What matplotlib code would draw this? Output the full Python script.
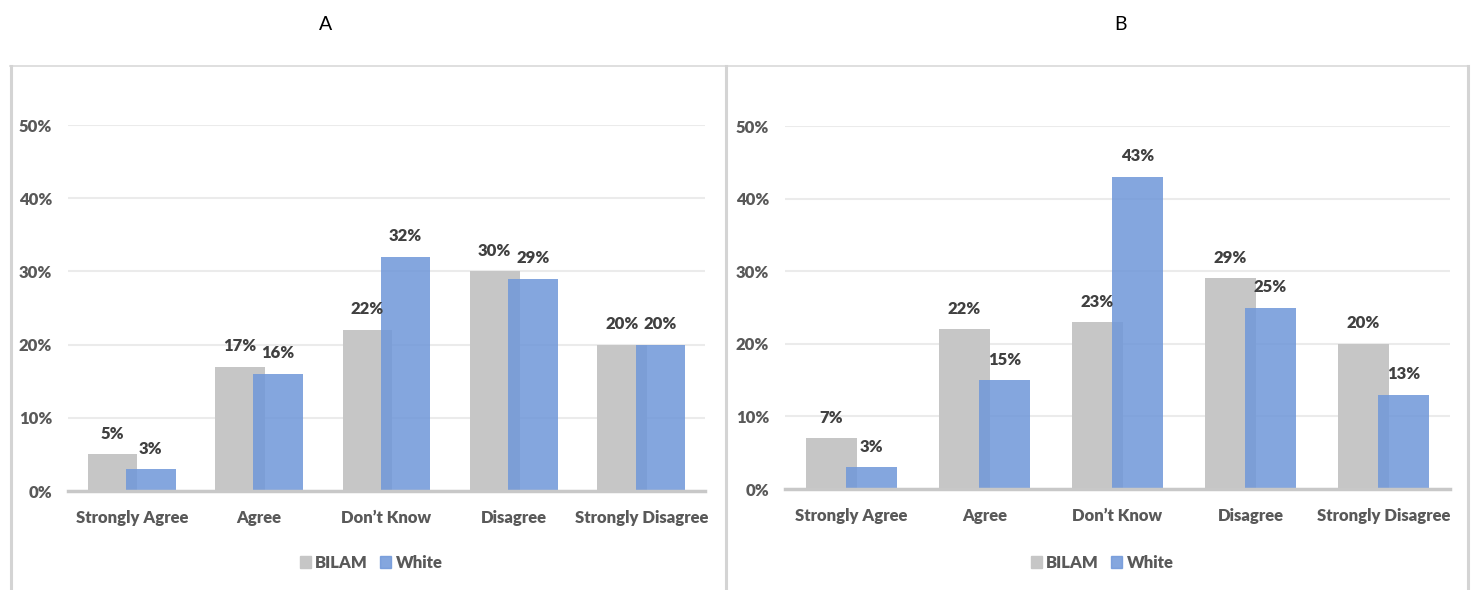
import numpy as np
import matplotlib
matplotlib.use('Agg')
import matplotlib.pyplot as plt
from matplotlib.lines import Line2D
from matplotlib.patches import Patch

plt.rcParams['font.family'] = ['Lato', 'DejaVu Sans']

categories = ['Strongly Agree', 'Agree', 'Don\u2019t Know', 'Disagree', 'Strongly Disagree']
series_names = ['BILAM', 'White']

bilam_a = [5, 17, 22, 30, 20]
white_a = [3, 16, 32, 29, 20]

bilam_b = [7, 22, 23, 29, 20]
white_b = [3, 15, 43, 25, 13]

GREY = '#C6C6C6'
BLUE = '#6F97D9'
TXT = '#595959'
LBL = '#404040'
WEIGHT = 'heavy'

W, H = 1476, 590
fig = plt.figure(figsize=(W / 100, H / 100), dpi=100)


def px(x0, y0, x1, y1):
    # pixel box (top-left origin) -> figure fraction rect
    return [x0 / W, 1 - y1 / H, (x1 - x0) / W, (y1 - y0) / H]


def panel(rect, bilam, white, legend_x):
    ax = fig.add_axes(rect)
    x = np.arange(len(categories))
    width = 0.39
    off = 0.15
    ax.bar(x - off, np.array(bilam) / 100, width, color=GREY, zorder=2)
    ax.bar(x + off, np.array(white) / 100, width, color=BLUE, alpha=0.85, zorder=3)
    for xi, v in zip(x, bilam):
        ax.annotate(f'{v}%', (xi - off, v / 100), xytext=(0, 9), textcoords='offset points',
                    ha='center', va='bottom', fontsize=12, fontweight=WEIGHT, color=LBL)
    for xi, v in zip(x, white):
        ax.annotate(f'{v}%', (xi + off, v / 100), xytext=(0, 9), textcoords='offset points',
                    ha='center', va='bottom', fontsize=12, fontweight=WEIGHT, color=LBL)

    ax.set_xlim(-0.5, len(categories) - 0.5)
    ax.set_ylim(0, 0.5)
    ax.set_yticks(np.arange(0, 0.51, 0.1))
    ax.set_yticklabels([f'{int(round(t * 100))}%' for t in np.arange(0, 0.51, 0.1)])
    ax.set_xticks(x)
    ax.set_xticklabels(categories)
    ax.tick_params(axis='y', length=0, pad=11.5, labelsize=12, labelcolor=TXT)
    ax.tick_params(axis='x', length=0, pad=14, labelsize=12, labelcolor=TXT)
    for lab in ax.get_xticklabels() + ax.get_yticklabels():
        lab.set_fontweight(WEIGHT)
    ax.grid(axis='y', color='#EBEBEB', linewidth=1.5, zorder=0)
    ax.set_axisbelow(True)
    for s in ['top', 'right', 'left']:
        ax.spines[s].set_visible(False)
    ax.spines['bottom'].set_color('#C8C8C8')
    ax.spines['bottom'].set_linewidth(2.5)
    ax.spines['bottom'].set_zorder(4)

    handles = [Patch(color=GREY), Patch(color=BLUE, alpha=0.85)]
    leg = fig.legend(handles, series_names, loc='center', ncol=2,
                     bbox_to_anchor=(legend_x / W, 1 - 563 / H), frameon=False,
                     handlelength=0.7, handleheight=0.7, handletextpad=0.25,
                     columnspacing=0.7, fontsize=12)
    for t in leg.get_texts():
        t.set_color(TXT)
        t.set_fontweight(WEIGHT)
    return ax


panel(px(68, 125, 705, 491), bilam_a, white_a, 371)
panel(px(785, 126, 1450, 489), bilam_b, white_b, 1102)

fig.text(326 / W, 1 - 24 / H, 'A', ha='center', va='center', fontsize=14, color='black')
fig.text(1121 / W, 1 - 24 / H, 'B', ha='center', va='center', fontsize=14, color='black')

# panel frames
border = '#D4D4D4'
fig.add_artist(Line2D([10 / W, 1469 / W], [1 - 66 / H, 1 - 66 / H], color='#D9D9D9', lw=1.2))
for xv in (11, 726, 1468):
    fig.add_artist(Line2D([xv / W, xv / W], [0, 1 - 66 / H], color=border, lw=2.2))

fig.savefig('out.png', dpi=100)
